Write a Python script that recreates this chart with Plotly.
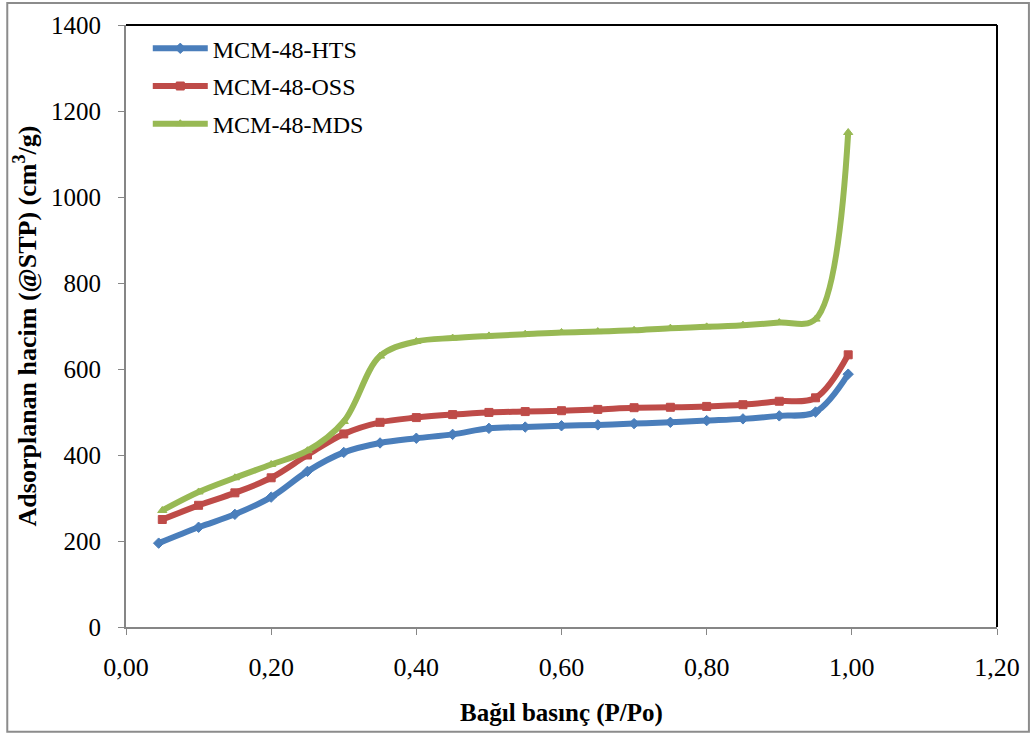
import plotly.graph_objects as go

# ---- data ----
x_hts = [0.045, 0.10, 0.15, 0.20, 0.25, 0.30, 0.35, 0.40, 0.45, 0.50,
         0.55, 0.60, 0.65, 0.70, 0.75, 0.80, 0.85, 0.90, 0.95, 0.995]
y_hts = [195, 232, 262, 302, 362, 406, 428, 439, 448, 462,
         465, 468, 470, 473, 476, 480, 484, 491, 500, 588]

x_oss = [0.05, 0.10, 0.15, 0.20, 0.25, 0.30, 0.35, 0.40, 0.45, 0.50,
         0.55, 0.60, 0.65, 0.70, 0.75, 0.80, 0.85, 0.90, 0.95, 0.995]
y_oss = [250, 283, 312, 347, 400, 449, 476, 487, 494, 499,
         501, 503, 506, 510, 511, 513, 517, 525, 533, 633]

x_mds = [0.05, 0.10, 0.15, 0.20, 0.25, 0.30, 0.35, 0.40, 0.45, 0.50,
         0.55, 0.60, 0.65, 0.70, 0.75, 0.80, 0.85, 0.90, 0.95, 0.995]
y_mds = [271, 314, 347, 378, 410, 478, 630, 664, 672, 677,
         681, 685, 687, 690, 695, 698, 702, 708, 716, 1150]

names = ["MCM-48-HTS", "MCM-48-OSS", "MCM-48-MDS"]
colors = ["#4A7EBB", "#BE4B48", "#98B954"]
symbols = ["diamond", "square", "triangle-up"]

FONT = "Liberation Serif, Times New Roman, serif"

fig = go.Figure()
for xs, ys, nm, c, s in zip([x_hts, x_oss, x_mds], [y_hts, y_oss, y_mds],
                            names, colors, symbols):
    fig.add_trace(go.Scatter(
        x=xs, y=ys, name=nm, mode="lines+markers",
        line=dict(color=c, width=6, shape="spline", smoothing=1),
        marker=dict(symbol=s, size=8, color=c, line=dict(color=c, width=1)),
        legendgroup=nm,
    ))

axis_color = "#868686"
fig.update_layout(
    width=1032, height=735,
    margin=dict(l=126, r=33, t=23, b=108),
    paper_bgcolor="white", plot_bgcolor="white",
    separators=", ",
    font=dict(family=FONT, size=24, color="black"),
    showlegend=True,
    legend=dict(x=0.025, y=0.998, xanchor="left", yanchor="top",
                bgcolor="rgba(0,0,0,0)", font=dict(family=FONT, size=24),
                tracegroupgap=3.5, itemwidth=55, traceorder="grouped"),
    xaxis=dict(range=[0, 1.2], dtick=0.2, tick0=0, tickformat=".2f",
               showgrid=False, zeroline=False, showline=True,
               linecolor=axis_color, linewidth=2,
               ticks="outside", ticklen=6, tickcolor=axis_color,
               tickfont=dict(family=FONT, size=26), ticklabelstandoff=10,
               title=dict(text="<b>Bağıl basınç (P/Po)</b>",
                          font=dict(family=FONT, size=25), standoff=22)),
    yaxis=dict(range=[0, 1400], dtick=200, tick0=0, tickformat="d",
               showgrid=False, zeroline=False, showline=True,
               linecolor=axis_color, linewidth=2,
               ticks="outside", ticklen=6, tickcolor=axis_color,
               tickfont=dict(family=FONT, size=25), ticklabelstandoff=12,
               title=dict(text="<b>Adsorplanan hacim (@STP) (cm<sup>3</sup>/g)</b>",
                          font=dict(family=FONT, size=26), standoff=7)),
)

# plot-area top and right borders (black), outer chart border (gray)
fig.add_shape(type="line", xref="paper", yref="paper", x0=0, x1=1, y0=1, y1=1,
              line=dict(color="black", width=2))
fig.add_shape(type="line", xref="paper", yref="paper", x0=1, x1=1, y0=0, y1=1,
              line=dict(color="black", width=2))
fig.add_shape(type="rect", xref="paper", yref="paper",
              x0=(7 - 126) / 873, x1=(1031 - 126) / 873,
              y0=(627 - 732) / 604, y1=(627 - 1) / 604,
              line=dict(color="#8C8C8C", width=2), layer="below")

fig.write_html("out.html", config={"displayModeBar": False},
               post_script="document.body.style.margin='0';")
